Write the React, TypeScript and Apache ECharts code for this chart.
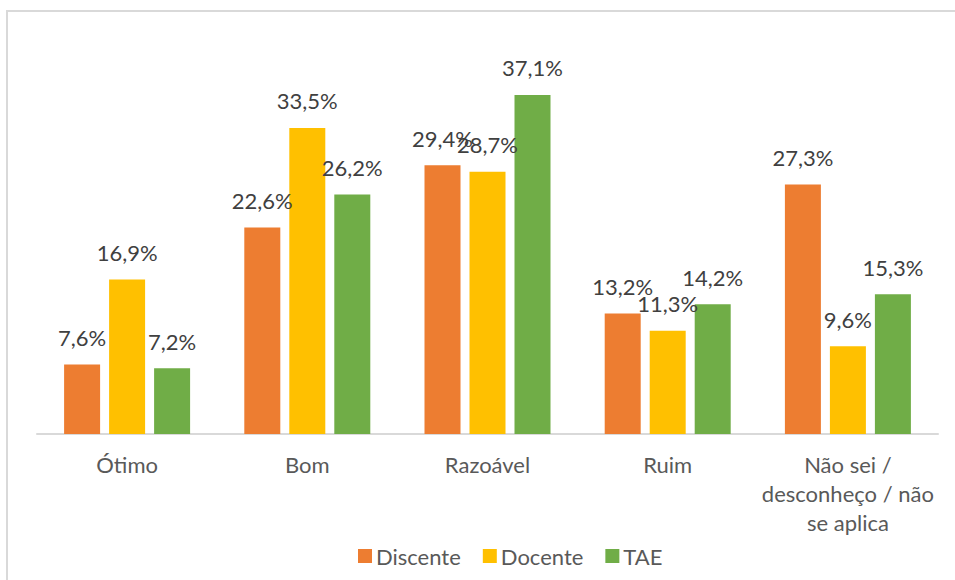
import React, { useEffect, useRef } from "react";
import * as echarts from "echarts";

const categories = ["Ótimo", "Bom", "Razoável", "Ruim", "Não sei /\ndesconheço / não\nse aplica"];
const discente = [7.6, 22.6, 29.4, 13.2, 27.3];
const docente = [16.9, 33.5, 28.7, 11.3, 9.6];
const tae = [7.2, 26.2, 37.1, 14.2, 15.3];

const FONT = "Lato, 'Open Sans', sans-serif";

export default function App() {
  const ref = useRef<HTMLDivElement>(null);
  useEffect(() => {
    document.body.style.margin = "0";
    const chart = echarts.init(ref.current!, undefined, { renderer: "svg" });
    const label = {
      show: true,
      position: "top" as const,
      distance: 16,
      fontSize: 22,
      fontFamily: FONT,
      color: "#404040",
      formatter: (p: any) => p.value.toFixed(1).replace(".", ",") + "%",
    };
    const mk = (name: string, data: number[], color: string) => ({
      name,
      type: "bar" as const,
      data,
      barWidth: 36,
      barGap: "25%",
      itemStyle: { color },
      label,
    });
    chart.setOption({
      animation: false,
      backgroundColor: "#ffffff",
      textStyle: { fontFamily: FONT },
      graphic: [
        {
          type: "rect",
          shape: { x: 7, y: 11, width: 1000, height: 1000 },
          style: { fill: "none", stroke: "#D9D9D9", lineWidth: 2 },
          silent: true,
          z: -1,
        },
      ],
      grid: { left: 37, right: 17, top: 68.5, bottom: 146 },
      xAxis: {
        type: "category",
        data: categories,
        axisLine: { lineStyle: { color: "#D9D9D9", width: 2 } },
        axisTick: { show: false },
        axisLabel: {
          fontSize: 22,
          fontFamily: FONT,
          color: "#595959",
          margin: 16,
          lineHeight: 29,
          interval: 0,
        },
      },
      yAxis: {
        type: "value",
        min: 0,
        max: 40,
        show: false,
        splitLine: { show: false },
      },
      legend: {
        top: 540,
        left: 353,
        itemWidth: 14,
        itemHeight: 14,
        itemGap: 22,
        icon: "rect",
        textStyle: { fontSize: 22, fontFamily: FONT, color: "#595959", padding: [0, 0, 0, -1] },
        data: ["Discente", "Docente", "TAE"],
      },
      series: [
        mk("Discente", discente, "#ED7D31"),
        mk("Docente", docente, "#FFC000"),
        mk("TAE", tae, "#70AD47"),
      ],
    });
    return () => chart.dispose();
  }, []);
  return <div ref={ref} style={{ width: 955, height: 580 }} />;
}
